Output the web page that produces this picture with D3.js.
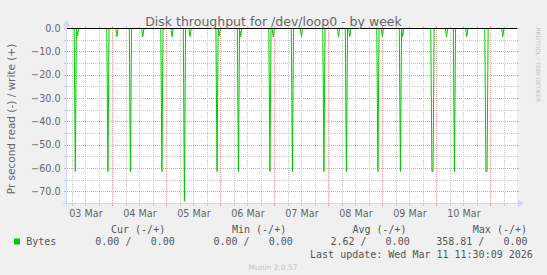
<!DOCTYPE html>
<html>
<head>
<meta charset="utf-8">
<script src="https://cdn.jsdelivr.net/npm/d3@7"></script>
<style>
  html, body { margin: 0; padding: 0; background: #f0f0f0; }
  svg { display: block; }
  text { white-space: pre; }
</style>
</head>
<body>
<div id="chart"></div>
<script>
// time window of the week graph (UTC)
const startTime = "2026-03-03 03:49";
const endTime = "2026-03-11 11:49";

// read throughput samples (bytes/s, drawn negative), everything else is 0
const readTimes = [
  "2026-03-03 07:30", "2026-03-03 08:30", "2026-03-03 22:00",
  "2026-03-04 02:00", "2026-03-04 08:00", "2026-03-04 13:30", "2026-03-04 22:00",
  "2026-03-05 02:30", "2026-03-05 08:00", "2026-03-05 10:30", "2026-03-05 22:30", "2026-03-05 23:30",
  "2026-03-06 08:00", "2026-03-06 09:00", "2026-03-06 22:00", "2026-03-06 23:30",
  "2026-03-07 08:00", "2026-03-07 12:00", "2026-03-07 22:00",
  "2026-03-08 04:30", "2026-03-08 08:00", "2026-03-08 09:30", "2026-03-08 22:00",
  "2026-03-09 00:00", "2026-03-09 08:00", "2026-03-09 09:00", "2026-03-09 22:00", "2026-03-09 22:30",
  "2026-03-10 04:30", "2026-03-10 08:00", "2026-03-10 13:30", "2026-03-10 22:00", "2026-03-10 22:30",
  "2026-03-11 05:30"
];
const readValues = [
  61.3, 3.0, 61.3,
  3.5, 61.3, 3.5, 61.3,
  3.5, 74.0, 3.5, 61.3, 3.0,
  61.3, 3.5, 61.3, 3.5,
  61.3, 3.5, 61.3,
  3.5, 61.3, 3.5, 61.3,
  3.5, 61.3, 3.5, 61.3, 61.3,
  3.5, 61.3, 3.5, 61.3, 61.3,
  3.5
];
// write throughput is flat zero
const writeTimes = [startTime, endTime];
const writeValues = [0, 0];

const yDomain = [-75, 0];

const legendHeaders = ["Cur (-/+)", "Min (-/+)", "Avg (-/+)", "Max (-/+)"];
const readStats = [0.00, 0.00, 2.62, 358.81];
const writeStats = [0.00, 0.00, 0.00, 0.00];
const lastUpdate = "Last update: Wed Mar 11 11:30:09 2026";

const W = 547, H = 275;
const plot = {left: 67, right: 517, top: 28, bottom: 203};

const parse = d3.utcParse("%Y-%m-%d %H:%M");
const sans = "'DejaVu Sans', Verdana, sans-serif";
const mono = "'DejaVu Sans Mono', monospace";

const svg = d3.select("#chart").append("svg")
    .attr("width", W)
    .attr("height", H);

svg.append("rect").attr("width", W).attr("height", H).attr("fill", "#f0f0f0");

const x = d3.scaleUtc()
    .domain([parse(startTime), parse(endTime)])
    .range([plot.left, plot.right]);

const y = d3.scaleLinear()
    .domain(yDomain)
    .range([plot.bottom, plot.top]);

const snap = v => Math.round(v) + 0.5;

// canvas
svg.append("rect")
    .attr("x", plot.left).attr("y", plot.top)
    .attr("width", plot.right - plot.left).attr("height", plot.bottom - plot.top)
    .attr("fill", "#ffffff");

const grid = svg.append("g").attr("shape-rendering", "crispEdges");
const minorColor = "#c8c8c8", majorColor = "#e8a0a0";

// horizontal grid
const yMajor = y.ticks(8);
const yMinor = y.ticks(15).filter(v => yMajor.indexOf(v) < 0 && v > yDomain[0]);

function hLine(v, color) {
  const yy = snap(y(v));
  grid.append("line").attr("x1", plot.left).attr("x2", plot.right)
      .attr("y1", yy).attr("y2", yy)
      .attr("stroke", color).attr("stroke-dasharray", "1,1");
  grid.append("line").attr("x1", plot.left - 3).attr("x2", plot.left)
      .attr("y1", yy).attr("y2", yy).attr("stroke", color);
  grid.append("line").attr("x1", plot.right).attr("x2", plot.right + 2)
      .attr("y1", yy).attr("y2", yy).attr("stroke", color);
}
yMinor.forEach(v => hLine(v, minorColor));
yMajor.forEach(v => hLine(v, majorColor));

// vertical grid
const xMajor = d3.utcDay.range(x.domain()[0], x.domain()[1]);
const xMinor = d3.utcHour.every(6).range(x.domain()[0], x.domain()[1])
    .filter(d => d.getUTCHours() !== 0);

function vLine(d, color) {
  const xx = snap(x(d));
  grid.append("line").attr("x1", xx).attr("x2", xx)
      .attr("y1", plot.top).attr("y2", plot.bottom)
      .attr("stroke", color).attr("stroke-dasharray", "1,1");
  grid.append("line").attr("x1", xx).attr("x2", xx)
      .attr("y1", plot.bottom).attr("y2", plot.bottom + 3).attr("stroke", color);
  grid.append("line").attr("x1", xx).attr("x2", xx)
      .attr("y1", plot.top - 2).attr("y2", plot.top).attr("stroke", color);
}
xMinor.forEach(d => vLine(d, minorColor));
xMajor.forEach(d => vLine(d, majorColor));

// axes
const axisColor = "#cfd6f8";
const ax = svg.append("g").attr("shape-rendering", "crispEdges");
ax.append("line")
    .attr("x1", plot.left - 0.5).attr("x2", plot.left - 0.5)
    .attr("y1", plot.bottom + 4).attr("y2", plot.top - 3)
    .attr("stroke", axisColor);
ax.append("line")
    .attr("x1", plot.left - 4).attr("x2", plot.right + 2)
    .attr("y1", plot.bottom + 0.5).attr("y2", plot.bottom + 0.5)
    .attr("stroke", axisColor);
svg.append("path")
    .attr("d", `M${plot.left - 4.5},${plot.top - 1.5} L${plot.left + 3.5},${plot.top - 1.5} L${plot.left - 0.5},${plot.top - 8} Z`)
    .attr("fill", axisColor);
svg.append("path")
    .attr("d", `M${plot.right + 1},${plot.bottom - 3.5} L${plot.right + 1},${plot.bottom + 4.5} L${plot.right + 7},${plot.bottom + 0.5} Z`)
    .attr("fill", axisColor);

// y tick labels
svg.append("g").selectAll("text")
    .data(yMajor)
    .join("text")
    .attr("x", plot.left - 6.5)
    .attr("y", d => y(d) + 3.6)
    .attr("text-anchor", "end")
    .attr("font-family", sans).attr("font-size", 9.6)
    .attr("fill", "#666")
    .text(d => d3.format(".1f")(d));

// x tick labels at noon
const noonLabels = d3.utcDay.range(d3.utcDay.floor(x.domain()[0]), x.domain()[1])
    .map(d => d3.utcHour.offset(d, 12))
    .filter(d => d > x.domain()[0] && d < x.domain()[1]);
svg.append("g").selectAll("text")
    .data(noonLabels)
    .join("text")
    .attr("x", d => x(d) + 0.5)
    .attr("y", 216.8)
    .attr("text-anchor", "middle")
    .attr("font-family", sans).attr("font-size", 9.6)
    .attr("fill", "#666")
    .text(d => d3.utcFormat("%d %b")(d));

// data
const step = 30 * 60 * 1000;
const samples = new Map(readTimes.map((t, i) => [parse(t).getTime(), readValues[i]]));
const keys = new Set([x.domain()[0].getTime(), x.domain()[1].getTime()]);
samples.forEach((v, k) => { keys.add(k - step); keys.add(k); keys.add(k + step); });
const readPoints = Array.from(keys).sort((a, b) => a - b)
    .map(k => ({t: new Date(k), v: samples.get(k) || 0}));
const writePoints = writeTimes.map((t, i) => ({t: parse(t), v: writeValues[i]}));

const green = "#00cc00";
svg.append("path")
    .datum(writePoints)
    .attr("d", d3.line().x(d => x(d.t)).y(d => snap(y(d.v))))
    .attr("fill", "none").attr("stroke", green).attr("stroke-width", 1);

svg.append("path")
    .datum(readPoints)
    .attr("d", d3.line().x(d => x(d.t)).y(d => y(-d.v) + 0.5))
    .attr("fill", "none").attr("stroke", green).attr("stroke-width", 1);

// zero rule
svg.append("line")
    .attr("x1", plot.left).attr("x2", plot.right)
    .attr("y1", snap(y(0))).attr("y2", snap(y(0)))
    .attr("stroke", "#000").attr("shape-rendering", "crispEdges");

// title
svg.append("text")
    .attr("x", W / 2).attr("y", 25.5)
    .attr("text-anchor", "middle")
    .attr("font-family", sans).attr("font-size", 12.5)
    .attr("fill", "#666")
    .text("Disk throughput for /dev/loop0 - by week");

// vertical axis title
svg.append("text")
    .attr("transform", `translate(14.5,${(43 + 195) / 2}) rotate(-90)`)
    .attr("text-anchor", "middle")
    .attr("font-family", sans).attr("font-size", 10.5)
    .attr("fill", "#666")
    .text("Pr second read (-) / write (+)");

// watermark
svg.append("text")
    .attr("transform", `translate(535.5,${(28 + 102) / 2}) rotate(90)`)
    .attr("text-anchor", "middle")
    .attr("font-family", sans).attr("font-size", 5.8)
    .attr("fill", "#c4c4c4")
    .text("RRDTOOL / TOBI OETIKER");

// legend
const legend = svg.append("g")
    .attr("font-family", mono).attr("font-size", 10)
    .attr("fill", "#555");
const headerX = [111, 232, 352.4, 472.8];
legend.selectAll(".hdr")
    .data(legendHeaders)
    .join("text")
    .attr("class", "hdr")
    .attr("x", (d, i) => headerX[i])
    .attr("y", 232.5)
    .text(d => d);

legend.append("rect")
    .attr("x", 14).attr("y", 238.5).attr("width", 6).attr("height", 6)
    .attr("fill", green);
legend.append("text").attr("x", 26.2).attr("y", 245).text("Bytes");

const fmt = d3.format(".2f");
const readX = [95.3, 213.5, 330.4, 436.2];
const writeX = [150.7, 268.7, 385.6, 503.5];
legend.selectAll(".rd")
    .data(readStats)
    .join("text")
    .attr("class", "rd")
    .attr("x", (d, i) => readX[i])
    .attr("y", 245)
    .text(d => fmt(d) + " /");
legend.selectAll(".wr")
    .data(writeStats)
    .join("text")
    .attr("class", "wr")
    .attr("x", (d, i) => writeX[i])
    .attr("y", 245)
    .text(d => fmt(d));

legend.append("text")
    .attr("x", 532.8).attr("y", 258)
    .attr("text-anchor", "end")
    .text(lastUpdate);

svg.append("text")
    .attr("x", 273).attr("y", 270)
    .attr("text-anchor", "middle")
    .attr("font-family", sans).attr("font-size", 7.5)
    .attr("fill", "#c4c4c4")
    .text("Munin 2.0.57");
</script>
</body>
</html>
